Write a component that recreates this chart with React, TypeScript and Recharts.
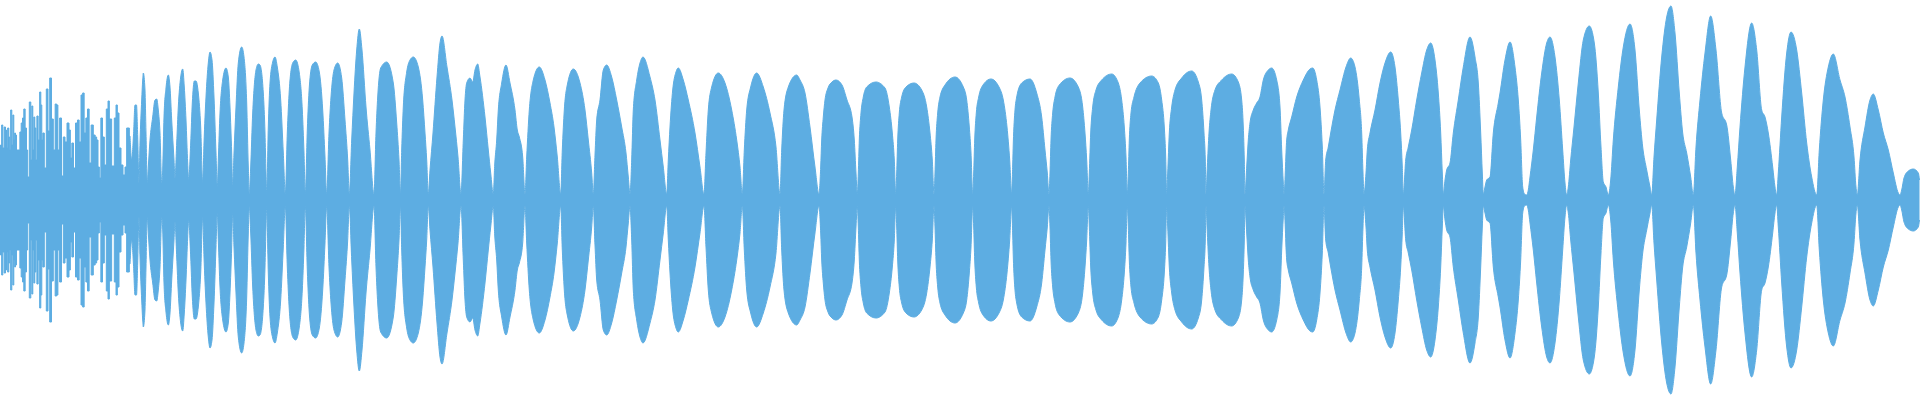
import React from 'react';
import { ComposedChart, Area, XAxis, YAxis } from 'recharts';

// Sample positions (time axis, 0..1920) and envelope amplitudes (±200 full scale)
const introTimes = [
  0, 1, 2.3, 3.3, 5, 6, 7, 8.3, 9.3, 10, 11.3, 12.3, 13.3, 14.3, 15, 16, 17, 19, 20.7, 21.7,
  23.3, 24.3, 26, 27, 28.3, 30.3, 31.3, 32.3, 33.3, 34.3, 35.3, 36.5, 37.3, 39, 40.3, 41.3, 42.3,
  43.3, 45.3, 47.3, 48.7, 50.7, 52.3, 54.3, 56, 57.3, 58.5, 60.7, 62.3, 64.3, 65.7, 68.3, 69.7,
  71, 72.7, 74.3, 76.7, 78.3, 80, 82, 83.3, 85, 86.7, 88.3, 90, 92.3, 94.3, 96, 97.3, 98.7, 100,
  101.7, 103.3, 105.3, 107.3, 108.7, 110, 113.3, 115.3, 116.7, 118, 120, 122, 124, 126, 127.3,
  128.7, 130,
];
const introAmps = [
  52, 55, 75, 52, 73, 70, 52, 72, 63, 50, 90, 55, 85, 60, 67, 65, 50, 50, 68, 77,
  82, 91, 72, 50, 23, 98, 40, 94, 50, 83, 72, 40, 84, 60, 108, 95, 60,
  67, 32, 111, 69, 122, 81, 50, 96, 95, 50, 82, 24, 63, 58, 77, 70,
  42, 57, 32, 77, 80, 58, 105, 107, 67, 82, 91, 37, 75, 65, 63, 60, 33, 22,
  82, 63, 35, 91, 99, 81, 34, 82, 95, 87, 52, 35, 25, 33, 72,
  72, 64,
];

const bodyTimes = [
  130, 131.7, 133.5, 135, 136.5, 137.7, 139, 140, 141.7, 142.7, 143.3, 145, 146, 147.3,
  148.3, 150, 152.7, 155, 156.7, 158.3, 160, 161.7,
  162.7, 164, 166, 168.3, 170, 171.7, 174, 175,
  176.7, 178.3, 180.7, 182.7, 184.3, 186, 187.7, 188.7,
  190.7, 192.3, 194.3, 196, 198.3, 200.7, 202.7,
  204, 206, 208.3, 210, 212, 214, 216, 217.3,
  218.3, 220, 222.7, 226, 228.3, 230, 231.7, 232.7,
  234, 236, 238.3, 241.7, 244, 246.7, 248.3, 249.3,
  250.7, 252.7, 256, 258.3, 260, 263.3, 265, 266, 266.7,
  268.3, 270, 272.7, 275, 277.3, 280.7, 283.3, 285.3,
  287.3, 289.3, 292.7, 295.7, 299.3, 302.3, 304, 305.3,
  307.3, 309.3, 312.3, 315.7, 319.3, 322.7, 325, 326.7,
  329, 331, 334, 337.7, 341.7, 345, 347.7, 349.3,
  351.7, 354, 356.7, 359.3, 362, 366, 370, 374,
  376, 377.7, 380.7, 386.7, 393.3, 396.7, 399, 400.5,
  401.7, 403.3, 406.7, 410, 413.3, 418.3, 422.7, 425, 426.7, 428.3,
  430, 433, 437, 440, 442, 447, 452, 455, 458, 461,
  463.3, 465, 466.7, 470, 472.7, 475, 477.7, 480, 485, 488.3, 490.7, 493.3,
  494.7, 496.7, 498.3, 501.7, 506, 510, 515, 517.3, 519.3, 522.7, 525,
  526.7, 529.3, 533.3, 539.3, 545, 550, 554, 557.3, 560.7,
  562.3, 564.3, 567.7, 573.3, 580, 585, 588.3, 591.7, 593.3,
  595, 596.7, 600, 603.3, 606.7, 611.7, 616.7, 621.7, 626, 628.3, 630,
  631.7, 633.3, 636.7, 640, 643, 650, 655, 660, 663.3, 666.7,
  668.3, 670, 672.7, 676, 678.3, 683.3, 688.3, 695, 700, 704,
  706, 708.3, 711.7, 718.3, 725, 731.7, 736.7, 740, 742.3,
  744.3, 746.7, 750.7, 756.7, 763.3, 770, 776, 780,
  781.7, 784, 788.3, 796.7, 800, 805, 810, 815, 819,
  820.7, 821.7, 823.3, 825, 828, 832, 836, 842, 847, 852, 854.3, 856, 857.3,
  858.3, 859.3, 861, 863.3, 866.7, 876, 885, 889.3, 892.3, 894.3, 895.7,
  896.7, 897.7, 899.3, 901.7, 906, 914, 921.7, 926.7, 930, 932.3, 934,
  935, 936, 937.7, 940, 945, 955, 963.3, 966.7, 969.3, 971, 972.7,
  973.7, 974.7, 976.3, 978.7, 983, 991, 999, 1003.3, 1007, 1009.7, 1011.7,
  1012.7, 1013.3, 1015, 1016.7, 1021.7, 1030, 1036.7, 1041.7, 1045, 1047.3, 1049,
  1050, 1051, 1052.7, 1055, 1059.3, 1070, 1078.3, 1082.7, 1085, 1086.7, 1088.3,
  1089.3, 1090.7, 1092.7, 1096, 1101.7, 1111.7, 1118.3, 1121.7, 1124.3, 1126, 1127.3,
  1128.3, 1129.3, 1131, 1134, 1140, 1151.7, 1158.3, 1161.7, 1164.3, 1165.7, 1166.7,
  1167.7, 1169.3, 1171.7, 1175, 1181.7, 1191.7, 1198.3, 1201.7, 1204, 1205.3, 1206,
  1207.3, 1209, 1211, 1215, 1221.7, 1231.7, 1238.3, 1241.7, 1243.3, 1244.3, 1245,
  1246.7, 1248.3, 1250, 1253.3, 1256.7, 1260, 1263.3, 1268.3, 1271.7, 1276.7, 1280, 1281.7, 1283.3, 1284,
  1286.7, 1288.3, 1291.7, 1296.7, 1303.3, 1310, 1312.7, 1316.7, 1320, 1322.3, 1324,
  1325.7, 1328.3, 1330.7, 1335, 1340, 1346, 1350.7, 1355, 1359.3, 1361.7, 1363, 1364,
  1366, 1367.3, 1370, 1375, 1380, 1385, 1390.7, 1395, 1398.3, 1400.7, 1402.3, 1403.3,
  1405.7, 1408.3, 1411.7, 1416.7, 1421.7, 1426.7, 1430.7, 1435, 1438.3, 1440.7, 1442.3, 1443.3,
  1445, 1446.7, 1450, 1453.3, 1458.3, 1463.3, 1470, 1475, 1478.3, 1480.7, 1482.3, 1483.3,
  1485, 1486.7, 1490, 1493.3, 1498.3, 1500, 1505, 1510, 1515, 1518.3, 1520.7, 1522.7, 1524.5, 1526.7,
  1528.3, 1530, 1533.3, 1536.7, 1541.7, 1546.7, 1550, 1555, 1559.3, 1562.7, 1565, 1566.7,
  1568.3, 1570.7, 1574, 1578.3, 1583.3, 1589.3, 1594.3, 1598.3, 1601, 1603.3, 1606, 1608.3,
  1610.7, 1613.3, 1618.3, 1623.3, 1630, 1635, 1639.3, 1642.7, 1646.7, 1650, 1651.7,
  1654, 1656.7, 1661.7, 1666.7, 1671, 1675, 1679.3, 1682.7, 1686.7, 1690.7, 1693.3,
  1696, 1700, 1705, 1710.7, 1716, 1721.7, 1726.7, 1730.7, 1733.3, 1735,
  1737.3, 1740, 1745, 1751.7, 1756.7, 1761.7, 1765, 1768.3, 1772.7, 1775, 1776.7,
  1778.3, 1781.7, 1786.7, 1791, 1796.7, 1801.7, 1806.7, 1811.7, 1816.7,
  1819.3, 1823.3, 1828.3, 1833.3, 1840, 1845, 1850, 1854, 1856, 1857.3,
  1860, 1865, 1870, 1873.3, 1878.3, 1883.3, 1888.3, 1893.3, 1898.3, 1900,
  1901.7, 1904, 1908.3, 1913.3, 1918.3, 1919.5,
];
const bodyAmps = [
  64, 40, 65, 95, 95, 63, 17, 57, 100, 120, 127, 110, 67, 17,
  33, 60, 83, 100, 101, 90, 67, 17,
  30, 83, 112, 125, 113, 80, 40, 22,
  57, 93, 123, 131, 113, 80, 37, 20,
  57, 97, 119, 119, 107, 73, 17,
  57, 103, 137, 148, 140, 103, 47, 13,
  40, 87, 120, 132, 123, 93, 47, 13,
  47, 93, 137, 153, 143, 97, 33, 6,
  33, 87, 130, 136, 135, 107, 67, 27, 6,
  73, 117, 138, 143, 133, 100, 47, 6,
  67, 110, 137, 140, 127, 90, 47, 6,
  70, 113, 135, 138, 128, 90, 43, 6,
  67, 103, 130, 137, 122, 80, 40, 6,
  60, 107, 150, 171, 150, 93, 50, 6,
  67, 103, 132, 138, 117, 77, 40, 6,
  50, 93, 128, 140, 143, 133, 100, 67, 40, 6,
  30, 67, 123, 157, 164, 133, 100, 73, 43, 6,
  60, 100, 117, 122, 118, 130, 136, 123, 83, 50, 27, 6,
  35, 60, 90, 117, 135, 117, 90, 70, 63, 43, 6,
  43, 90, 120, 133, 120, 97, 73, 43, 6,
  50, 90, 117, 131, 117, 90, 60, 27, 6,
  45, 80, 100, 130, 135, 123, 100, 73, 47, 23, 6,
  40, 90, 120, 137, 143, 123, 100, 60, 33, 6,
  40, 73, 110, 128, 132, 120, 100, 67, 33, 6,
  47, 90, 113, 127, 117, 90, 60, 33, 6,
  50, 90, 113, 127, 113, 87, 53, 6,
  50, 90, 113, 125, 120, 107, 73, 33, 6,
  33, 60, 83, 100, 112, 118, 120, 115, 100, 83, 60, 27, 6,
  27, 60, 87, 103, 113, 118, 112, 93, 67, 40, 6,
  27, 60, 87, 103, 113, 117, 110, 93, 67, 40, 6,
  27, 60, 87, 103, 115, 123, 113, 100, 73, 47, 6,
  27, 60, 87, 103, 115, 121, 113, 100, 73, 40, 6,
  35, 57, 90, 103, 117, 121, 107, 83, 50, 27, 6,
  27, 60, 87, 103, 115, 122, 113, 93, 67, 40, 6,
  27, 67, 93, 110, 120, 126, 117, 100, 73, 43, 6,
  27, 60, 87, 103, 117, 124, 117, 100, 73, 43, 6,
  27, 67, 93, 110, 122, 129, 118, 100, 67, 40, 6,
  33, 67, 90, 110, 120, 126, 118, 100, 73, 40, 6,
  33, 60, 77, 90, 97, 103, 120, 130, 132, 120, 93, 50, 17, 6,
  60, 70, 83, 103, 120, 131, 132, 120, 93, 53, 6,
  40, 53, 67, 90, 110, 133, 142, 133, 100, 67, 27, 6,
  27, 50, 67, 90, 117, 137, 148, 133, 100, 67, 33, 6,
  40, 53, 70, 100, 127, 150, 157, 140, 107, 67, 27, 6,
  20, 30, 37, 67, 100, 133, 163, 143, 117, 67, 27, 6,
  13, 20, 23, 67, 97, 107, 140, 158, 133, 100, 60, 13, 6, 5,
  10, 23, 50, 83, 127, 157, 163, 143, 100, 50, 17, 5,
  13, 40, 73, 117, 160, 174, 157, 107, 53, 18, 13, 5,
  20, 60, 113, 153, 176, 150, 90, 53, 30, 13, 5,
  43, 80, 143, 183, 194, 167, 107, 67, 47, 23, 5,
  53, 100, 147, 184, 150, 87, 75, 40, 13, 5,
  33, 73, 133, 177, 150, 90, 83, 67, 33, 13, 5,
  27, 83, 147, 168, 150, 107, 57, 23, 5,
  50, 100, 133, 146, 120, 103, 73, 43, 13, 5,
  40, 73, 100, 106, 90, 67, 50, 27, 7, 5,
  10, 22, 29, 31, 27, 20,
];

type Row = {
  t: number;
  introUp: number | null;
  introDown: number | null;
  bodyUp: number | null;
  bodyDown: number | null;
};

const rowMap = new Map<number, Row>();
const getRow = (t: number): Row => {
  let r = rowMap.get(t);
  if (!r) {
    r = { t, introUp: null, introDown: null, bodyUp: null, bodyDown: null };
    rowMap.set(t, r);
  }
  return r;
};
introTimes.forEach((t, i) => {
  const r = getRow(t);
  r.introUp = introAmps[i];
  r.introDown = -introAmps[i];
});
bodyTimes.forEach((t, i) => {
  const r = getRow(t);
  r.bodyUp = bodyAmps[i];
  r.bodyDown = -bodyAmps[i];
});
const data: Row[] = Array.from(rowMap.values()).sort((a, b) => a.t - b.t);

const COLOR = '#5DADE2';

export default function App() {
  return (
    <div style={{ position: 'absolute', left: 0, top: 0, width: 1920, height: 400, background: '#ffffff' }}>
      <ComposedChart width={1920} height={400} data={data} margin={{ top: 0, right: 0, bottom: 0, left: 0 }}>
        <XAxis type="number" dataKey="t" domain={[0, 1920]} hide allowDataOverflow />
        <YAxis type="number" domain={[-200, 200]} hide allowDataOverflow />
        <Area type="step" dataKey="introUp" baseValue={0} stroke={COLOR} strokeWidth={1} fill={COLOR} fillOpacity={1} isAnimationActive={false} dot={false} activeDot={false} />
        <Area type="step" dataKey="introDown" baseValue={0} stroke={COLOR} strokeWidth={1} fill={COLOR} fillOpacity={1} isAnimationActive={false} dot={false} activeDot={false} />
        <Area type="monotone" dataKey="bodyUp" baseValue={0} stroke={COLOR} strokeWidth={1} fill={COLOR} fillOpacity={1} isAnimationActive={false} dot={false} activeDot={false} />
        <Area type="monotone" dataKey="bodyDown" baseValue={0} stroke={COLOR} strokeWidth={1} fill={COLOR} fillOpacity={1} isAnimationActive={false} dot={false} activeDot={false} />
      </ComposedChart>
    </div>
  );
}
